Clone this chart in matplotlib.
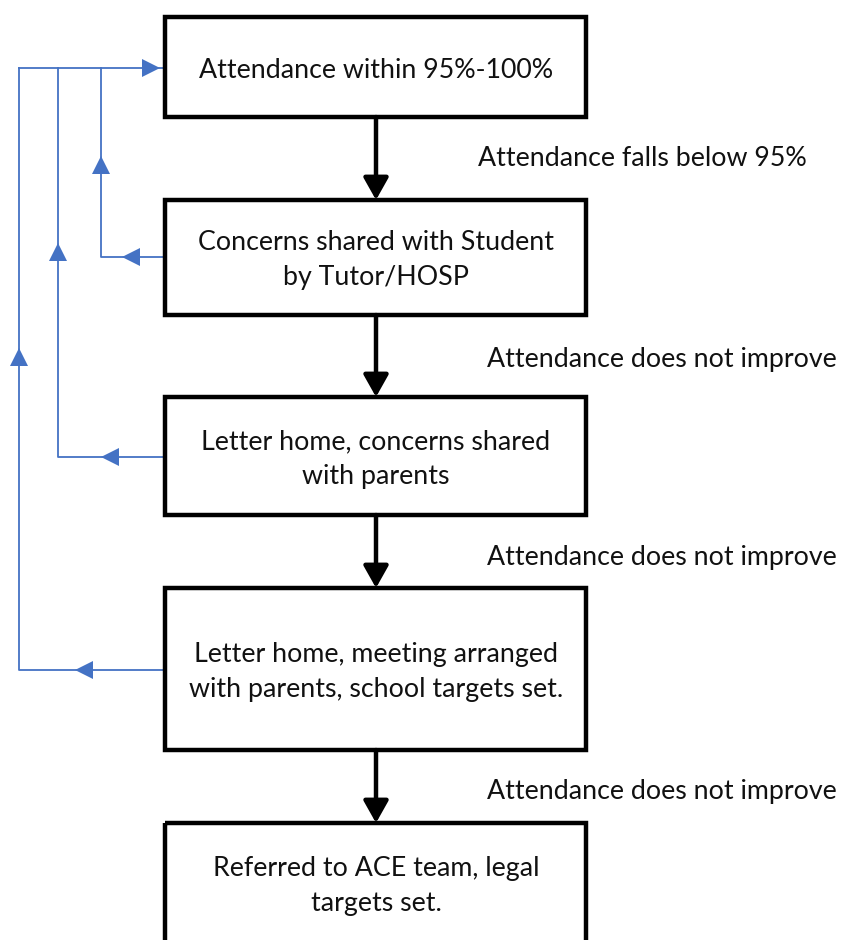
import matplotlib.pyplot as plt
from matplotlib.patches import Rectangle

plt.rcParams['font.family'] = ['Lato', 'DejaVu Sans']

# flowchart content
box_texts = ['Attendance within 95%-100%',
             'Concerns shared with Student\nby Tutor/HOSP',
             'Letter home, concerns shared\nwith parents',
             'Letter home, meeting arranged\nwith parents, school targets set.',
             'Referred to ACE team, legal\ntargets set.']
step_labels = ['Attendance falls below 95%',
               'Attendance does not improve',
               'Attendance does not improve',
               'Attendance does not improve']

# layout (pixels, y down)
box_left = 165
box_right = 586
box_top = [17, 200, 397, 588, 823]
box_bottom = [117, 315, 515, 750, 960]
label_y = [159, 359, 557, 792]
label_x = [478, 487, 487, 487]
mid_x = 376

# blue feedback loops
loop_x = [101, 58, 19]
loop_y = [257, 457, 670]
up_arrow_y = [165, 252, 357]
left_arrow_x = [131, 110, 84]
top_y = 68
blue = '#4472C4'
fs = 19.3

fig = plt.figure(figsize=(8.42, 9.4), dpi=100)
ax = fig.add_axes([0, 0, 1, 1])
ax.set_xlim(0, 842)
ax.set_ylim(940, 0)
ax.axis('off')

for i in range(len(box_texts)):
    r = Rectangle((box_left, box_top[i]), box_right - box_left, box_bottom[i] - box_top[i],
                  fill=False, ec='black', lw=3.2, zorder=3)
    ax.add_patch(r)
    cy = (box_top[i] + box_bottom[i]) / 2 + 3 if i < 4 else 886
    ax.text(mid_x, cy, box_texts[i], ha='center', va='center', fontsize=fs,
            linespacing=1.5, color='#111111')

for i in range(len(step_labels)):
    ax.annotate('', xy=(mid_x, box_top[i + 1]), xytext=(mid_x, box_bottom[i]),
                arrowprops=dict(arrowstyle='-|>,head_length=0.48,head_width=0.27', lw=3.2,
                                color='black', mutation_scale=28, shrinkA=0, shrinkB=0),
                zorder=2)
    ax.text(label_x[i], label_y[i], step_labels[i], ha='left', va='center', fontsize=fs,
            color='#111111')

# top line into the first box
ax.plot([loop_x[-1], box_left - 1], [top_y, top_y], color=blue, lw=1.3)
ax.plot([151], [top_y], marker='>', color=blue, ms=13, mew=0)

for i in range(len(loop_x)):
    ax.plot([box_left - 1, loop_x[i], loop_x[i]], [loop_y[i], loop_y[i], top_y],
            color=blue, lw=1.3)
    ax.plot([loop_x[i]], [up_arrow_y[i]], marker='^', color=blue, ms=13, mew=0)
    ax.plot([left_arrow_x[i]], [loop_y[i]], marker='<', color=blue, ms=13, mew=0)

fig.savefig('out.png', dpi=100, facecolor='white')
